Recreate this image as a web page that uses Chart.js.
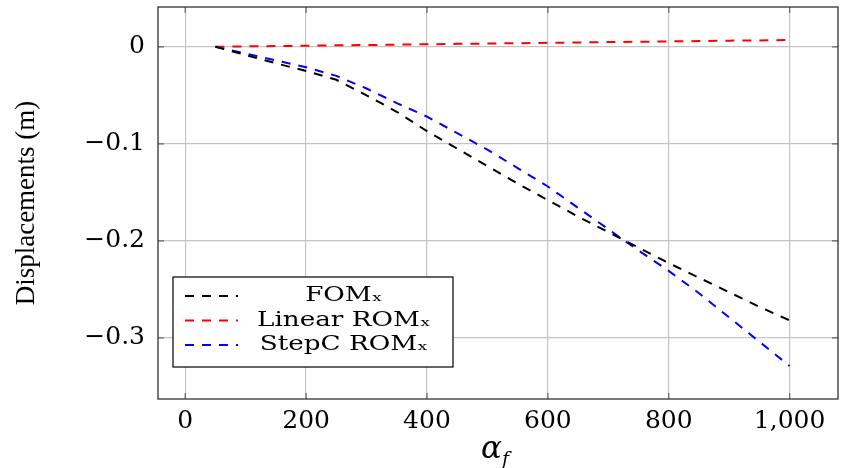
<!DOCTYPE html>
<html>
<head>
<meta charset="utf-8">
<script src="https://cdn.jsdelivr.net/npm/chart.js@4.4.0/dist/chart.umd.min.js"></script>
<style>
    html, body { margin: 0; padding: 0; background: #ffffff; }
    #chart-wrap { width: 841px; height: 468px; }
</style>
</head>
<body>
<div id="chart-wrap"><canvas id="displacement-chart" width="841" height="468"></canvas></div>
<script>
// Sample points on the alpha_f axis
const alphaValues = [50, 100, 150, 200, 250, 300, 350, 400, 450, 500, 550, 600, 650, 700, 750, 800, 850, 900, 950, 1000];

// Displacements (m) per model
const fomValues = [0, -0.0085, -0.017, -0.025, -0.034, -0.050, -0.067, -0.087, -0.105, -0.123, -0.141, -0.158, -0.175, -0.191, -0.207, -0.223, -0.238, -0.253, -0.268, -0.282];
const linearRomValues = [0, 0.0004, 0.0007, 0.0011, 0.0015, 0.0018, 0.0022, 0.0026, 0.0030, 0.0033, 0.0037, 0.0041, 0.0044, 0.0048, 0.0052, 0.0055, 0.0059, 0.0063, 0.0066, 0.0070];
const stepcRomValues = [0, -0.007, -0.014, -0.021, -0.030, -0.043, -0.058, -0.072, -0.089, -0.106, -0.125, -0.144, -0.166, -0.188, -0.210, -0.231, -0.254, -0.279, -0.304, -0.329];

// Axis ticks
const xTicks = [0, 200, 400, 600, 800, 1000];
const yTicks = [0, -0.1, -0.2, -0.3];

// Legend labels (subscript x)
const seriesLabels = ['FOM\u2093', 'Linear ROM\u2093', 'StepC ROM\u2093'];
const seriesColors = ['#000000', '#ff0000', '#0000ff'];

const serifFont = "'DejaVu Serif', serif";

function toPoints(values) {
    return alphaValues.map((a, i) => ({ x: a, y: values[i] }));
}

// Box around the plot area, inner tick marks, legend inside and the alpha_f label
const framePlugin = {
    id: 'frame',
    afterDraw(chart) {
        const ctx = chart.ctx;
        const area = chart.chartArea;
        const xs = chart.scales.x;
        const ys = chart.scales.y;
        ctx.save();

        // inner tick marks on all four sides
        ctx.strokeStyle = '#666666';
        ctx.lineWidth = 1.2;
        ctx.beginPath();
        xTicks.forEach(v => {
            const px = xs.getPixelForValue(v);
            ctx.moveTo(px, area.bottom); ctx.lineTo(px, area.bottom - 6);
            ctx.moveTo(px, area.top); ctx.lineTo(px, area.top + 6);
        });
        yTicks.forEach(v => {
            const py = ys.getPixelForValue(v);
            ctx.moveTo(area.left, py); ctx.lineTo(area.left + 6, py);
            ctx.moveTo(area.right, py); ctx.lineTo(area.right - 6, py);
        });
        ctx.stroke();

        // axis box
        ctx.strokeStyle = '#333333';
        ctx.lineWidth = 1.3;
        ctx.strokeRect(area.left, area.top, area.right - area.left, area.bottom - area.top);

        // legend box
        const lx = 173, ly = 277, lw = 280, lh = 90;
        ctx.fillStyle = '#ffffff';
        ctx.fillRect(lx, ly, lw, lh);
        ctx.strokeStyle = '#000000';
        ctx.lineWidth = 1.2;
        ctx.strokeRect(lx, ly, lw, lh);

        chart.data.datasets.forEach((ds, i) => {
            const rowY = 296 + i * 24.5;
            ctx.strokeStyle = ds.borderColor;
            ctx.lineWidth = 2;
            ctx.setLineDash([9, 8]);
            ctx.beginPath();
            ctx.moveTo(185, rowY);
            ctx.lineTo(238, rowY);
            ctx.stroke();
            ctx.setLineDash([]);

            ctx.save();
            ctx.translate(344, rowY);
            ctx.scale(1.25, 1);
            ctx.fillStyle = '#000000';
            ctx.font = "21px " + serifFont;
            ctx.textAlign = 'center';
            ctx.textBaseline = 'middle';
            ctx.fillText(ds.label, 0, 0);
            ctx.restore();
        });

        // x axis title: alpha with subscript f
        ctx.fillStyle = '#000000';
        ctx.textBaseline = 'alphabetic';
        ctx.textAlign = 'left';
        ctx.font = "italic 31px " + serifFont;
        ctx.fillText('\u03b1', 481, 458);
        ctx.font = "italic 19px " + serifFont;
        ctx.fillText('f', 502, 465);

        ctx.restore();
    }
};

function createDisplacementChart() {
    const ctx = document.getElementById('displacement-chart').getContext('2d');

    const values = [fomValues, linearRomValues, stepcRomValues];
    const datasets = values.map((v, i) => ({
        label: seriesLabels[i],
        data: toPoints(v),
        borderColor: seriesColors[i],
        backgroundColor: seriesColors[i],
        borderWidth: 2,
        borderDash: [9, 8],
        pointRadius: 0,
        tension: 0,
        fill: false
    }));

    new Chart(ctx, {
        type: 'line',
        data: { datasets: datasets },
        options: {
            responsive: false,
            animation: false,
            layout: {
                padding: { left: 0, right: 3, top: 7, bottom: 0 }
            },
            plugins: {
                legend: { display: false },
                tooltip: { enabled: false }
            },
            scales: {
                x: {
                    type: 'linear',
                    min: -45,
                    max: 1080,
                    afterBuildTicks: axis => { axis.ticks = xTicks.map(v => ({ value: v })); },
                    afterFit: axis => {
                        axis.height = 69;
                        axis.paddingLeft = 0;
                        axis.paddingRight = 0;
                    },
                    grid: { color: '#c4c4c4', lineWidth: 1.2, drawTicks: false },
                    border: { display: false },
                    ticks: {
                        color: '#000000',
                        padding: 7,
                        maxRotation: 0,
                        font: { family: serifFont, size: 25 },
                        callback: v => v.toLocaleString('en-US')
                    }
                },
                y: {
                    type: 'linear',
                    min: -0.363,
                    max: 0.041,
                    afterBuildTicks: axis => { axis.ticks = yTicks.map(v => ({ value: v })); },
                    afterFit: axis => {
                        axis.width = 158;
                        axis.paddingTop = 0;
                        axis.paddingBottom = 0;
                    },
                    grid: { color: '#c4c4c4', lineWidth: 1.2, drawTicks: false },
                    border: { display: false },
                    title: {
                        display: true,
                        text: 'Displacements (m)',
                        color: '#000000',
                        font: { family: "'Liberation Serif', serif", size: 27 },
                        padding: { top: 11, bottom: 0 }
                    },
                    ticks: {
                        color: '#000000',
                        padding: 13,
                        font: { family: serifFont, size: 25 },
                        callback: v => (v === 0 ? '0' : String(v).replace('-', '\u2212'))
                    }
                }
            }
        },
        plugins: [framePlugin]
    });
}

window.addEventListener('DOMContentLoaded', createDisplacementChart);
</script>
</body>
</html>
